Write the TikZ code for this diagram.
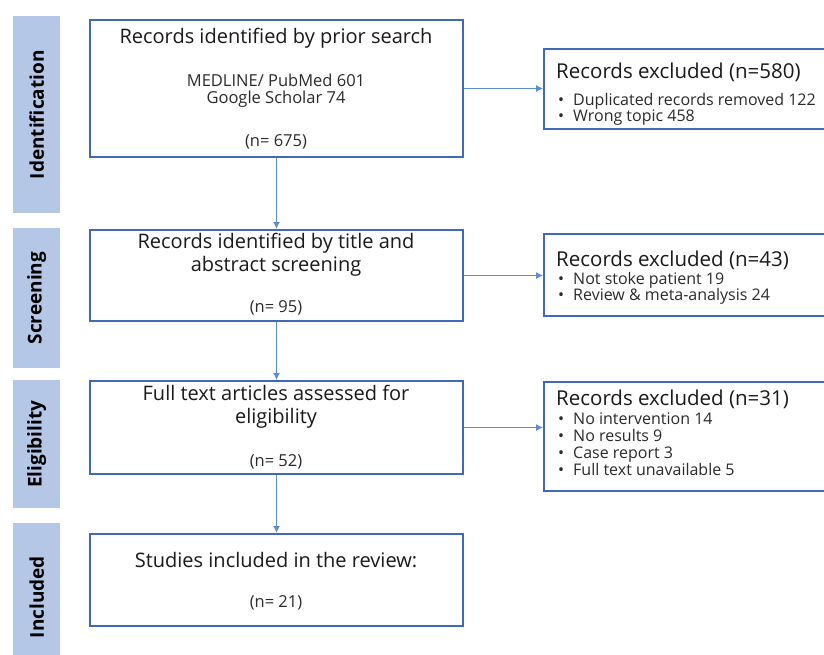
\documentclass[tikz,border=0pt]{standalone}
\usepackage{fontspec}
\setmainfont{Open Sans}
\usetikzlibrary{arrows.meta}
\definecolor{boxblue}{HTML}{4169B8}
\definecolor{barblue}{HTML}{B4C7E7}
\definecolor{arrowblue}{HTML}{5B8BD9}
\definecolor{txt}{HTML}{1A1A1A}
\definecolor{txtb}{HTML}{2B2B2B}
\begin{document}
\begin{tikzpicture}[x=1pt,y=-1pt,
  mainbox/.style={draw=boxblue,line width=2pt,fill=white,anchor=north west,inner sep=0pt,rectangle},
  sidebar/.style={fill=barblue,anchor=north west,inner sep=0pt,rectangle},
  barlabel/.style={rotate=90,font=\fontsize{19}{21}\selectfont\bfseries,text=black},
  ttl/.style={font=\fontsize{20}{23}\selectfont,text=txt,align=center,inner sep=1pt},
  sub/.style={font=\fontsize{16.5}{17}\selectfont,text=txtb,align=center,inner sep=1pt},
  extitle/.style={font=\fontsize{20.5}{22}\selectfont,text=txt,anchor=base west,inner sep=0pt},
  exitem/.style={font=\fontsize{16}{17}\selectfont,text=txtb,anchor=base west,inner sep=0pt},
  conn/.style={draw=arrowblue,line width=1.2pt,-{Latex[length=7pt,width=7pt]}}
]
\clip (0,0) rectangle (824,655);
\useasboundingbox (0,0) rectangle (824,655);
% side bars
\node[sidebar,minimum width=47pt,minimum height=197pt] (barI) at (13,16) {};
\node[sidebar,minimum width=47pt,minimum height=140pt] (barS) at (13,228) {};
\node[sidebar,minimum width=47pt,minimum height=128pt] (barE) at (13,380) {};
\node[sidebar,minimum width=47pt,minimum height=140pt] (barN) at (13,523) {};
\node[barlabel] (lI) at (barI.center) {Identification};
\node[barlabel] (lS) at (barS.center) {Screening};
\node[barlabel] (lE) at (barE.center) {Eligibility};
\node[barlabel] (lN) at ([yshift=-4pt]barN.center) {Included};
% main boxes
\node[mainbox,minimum width=373pt,minimum height=137pt] (b1) at (89,19) {};
\node[mainbox,minimum width=373pt,minimum height=91pt] (b2) at (89,229) {};
\node[mainbox,minimum width=373pt,minimum height=93pt] (b3) at (89,380) {};
\node[mainbox,minimum width=373pt,minimum height=92pt] (b4) at (89,533) {};
% right boxes
\node[mainbox,minimum width=290pt,minimum height=80pt] (x1) at (543,48) {};
\node[mainbox,minimum width=290pt,minimum height=82pt] (x2) at (543,233) {};
\node[mainbox,minimum width=290pt,minimum height=109pt] (x3) at (543,381) {};
% main box texts
\node[ttl] (t1a) at (276,38) {Records identified by prior search};
\node[sub] (t1b) at (276,90.5) {MEDLINE/ PubMed 601\\Google Scholar 74};
\node[sub] (t1d) at (276,142) {(n= 675)};
\node[ttl] (t2a) at (276,255) {Records identified by title and\\abstract screening};
\node[sub] (t2c) at (276,308) {(n= 95)};
\node[ttl] (t3a) at (276,407) {Full text articles assessed for\\eligibility};
\node[sub] (t3c) at (276,462) {(n= 52)};
\node[ttl] (t4a) at (276,560) {Studies included in the review:};
\node[sub] (t4b) at (276,603) {(n= 21)};
% excluded texts
\node[extitle] (e1) at (556,79) {Records excluded (n=580)};
\node[exitem] (e1a) at (558,106) {\textbullet\hspace{9pt}Duplicated records removed 122};
\node[exitem] (e1b) at (558,122) {\textbullet\hspace{9pt}Wrong topic 458};
\node[extitle] (e2) at (556,266) {Records excluded (n=43)};
\node[exitem] (e2a) at (558,284) {\textbullet\hspace{9pt}Not stoke patient 19};
\node[exitem] (e2b) at (558,300) {\textbullet\hspace{9pt}Review \& meta-analysis 24};
\node[extitle] (e3) at (556,405) {Records excluded (n=31)};
\node[exitem] (e3a) at (558,424) {\textbullet\hspace{9pt}No intervention 14};
\node[exitem] (e3b) at (558,441) {\textbullet\hspace{9pt}No results 9};
\node[exitem] (e3c) at (558,458) {\textbullet\hspace{9pt}Case report 3};
\node[exitem] (e3d) at (558,475) {\textbullet\hspace{9pt}Full text unavailable 5};
% connectors
\draw[conn] (b1.south) -- (b2.north);
\draw[conn] (b2.south) -- (b3.north);
\draw[conn] (b3.south) -- (b4.north);
\draw[conn] (b1.east) -- (b1.east -| x1.west);
\draw[conn] (b2.east) -- (b2.east -| x2.west);
\draw[conn] (b3.east) -- (b3.east -| x3.west);
\end{tikzpicture}
\end{document}
